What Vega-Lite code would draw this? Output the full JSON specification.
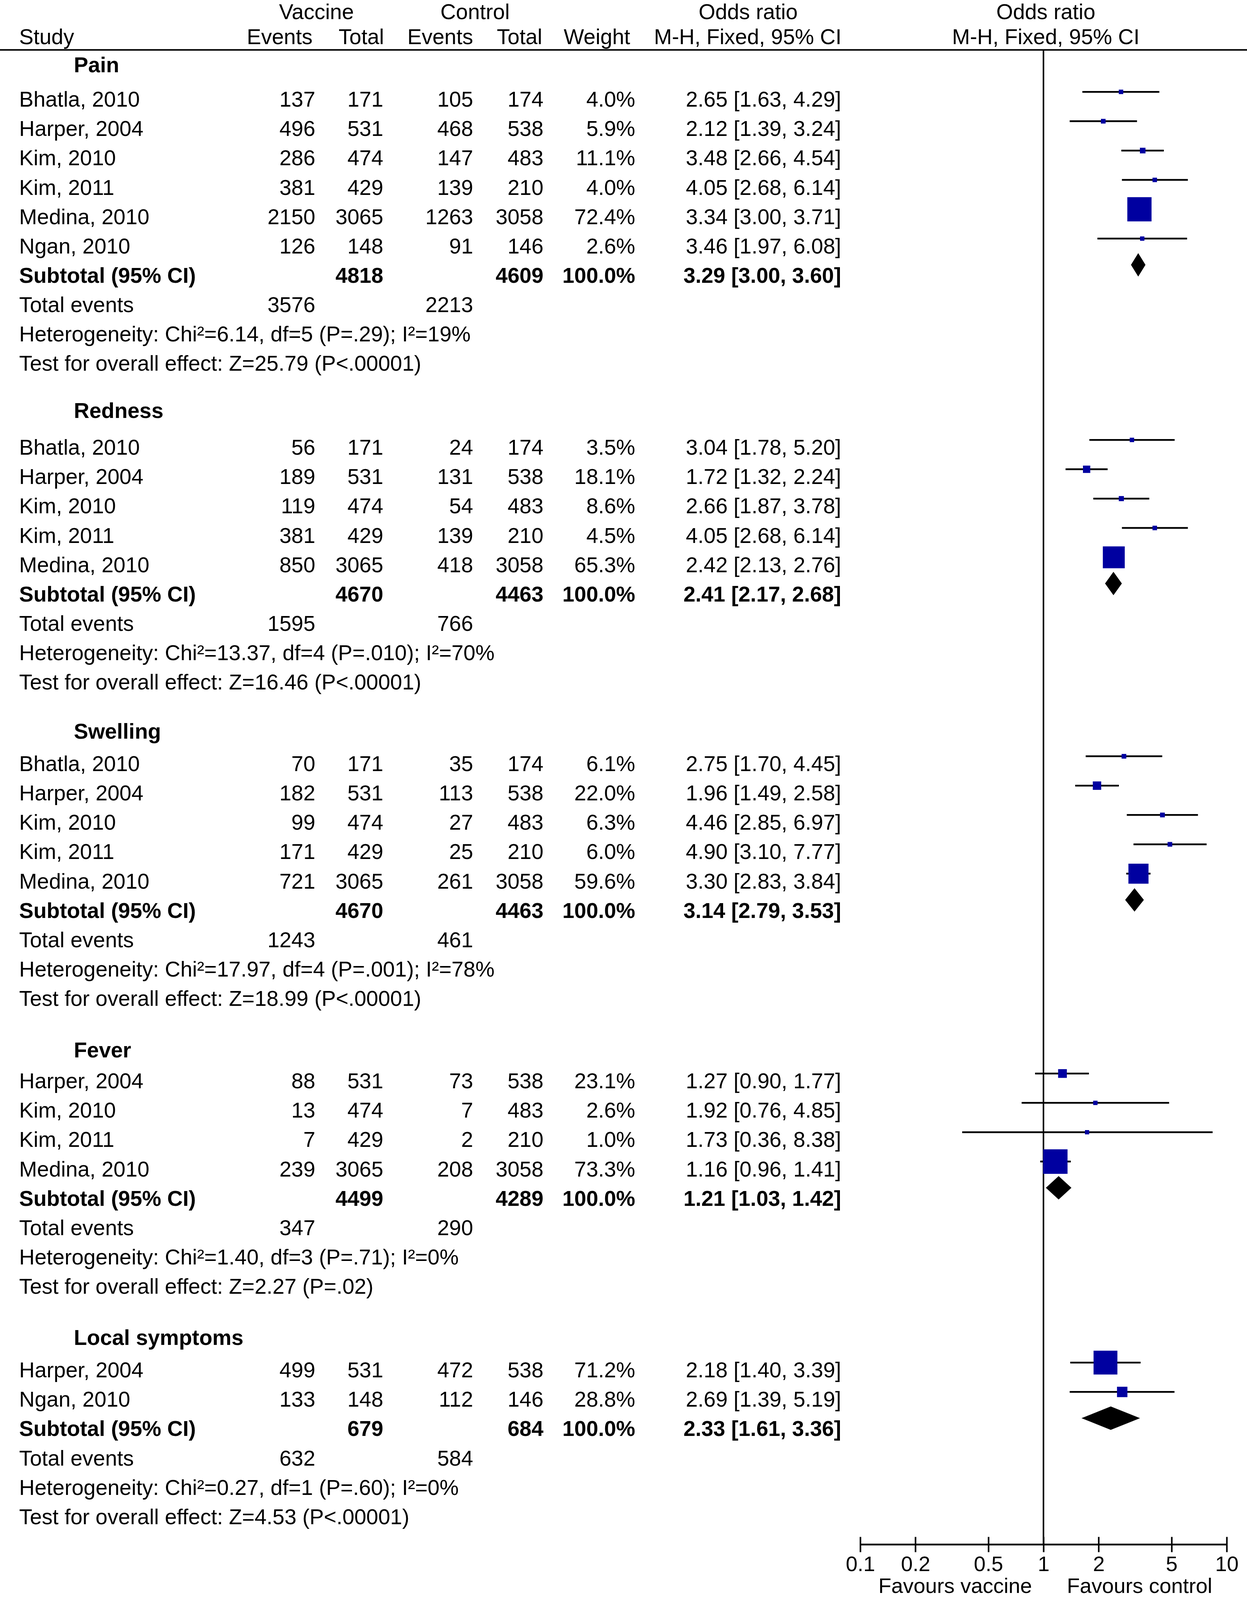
{
  "$schema": "https://vega.github.io/schema/vega-lite/v6.json",
  "width": 3192,
  "height": 3954,
  "autosize": {"type": "none"},
  "padding": {"left": 0, "right": 0, "top": 0, "bottom": 142},
  "background": "white",
  "config": {"view": {"stroke": null}, "font": "Liberation Sans"},
  "datasets": {
    "rows": [
      {"o": "Pain", "r": 0, "k": "section", "label": "Pain"},
      {"o": "Pain", "r": 1.18, "k": "study", "label": "Bhatla, 2010", "ve": 137, "vt": 171, "ce": 105, "ct": 174, "wt": 0.040, "ci": "2.65 [1.63, 4.29]", "est": 2.65, "lo": 1.63, "hi": 4.29},
      {"o": "Pain", "r": 2.18, "k": "study", "label": "Harper, 2004", "ve": 496, "vt": 531, "ce": 468, "ct": 538, "wt": 0.059, "ci": "2.12 [1.39, 3.24]", "est": 2.12, "lo": 1.39, "hi": 3.24},
      {"o": "Pain", "r": 3.18, "k": "study", "label": "Kim, 2010", "ve": 286, "vt": 474, "ce": 147, "ct": 483, "wt": 0.111, "ci": "3.48 [2.66, 4.54]", "est": 3.48, "lo": 2.66, "hi": 4.54},
      {"o": "Pain", "r": 4.18, "k": "study", "label": "Kim, 2011", "ve": 381, "vt": 429, "ce": 139, "ct": 210, "wt": 0.040, "ci": "4.05 [2.68, 6.14]", "est": 4.05, "lo": 2.68, "hi": 6.14},
      {"o": "Pain", "r": 5.18, "k": "study", "label": "Medina, 2010", "ve": 2150, "vt": 3065, "ce": 1263, "ct": 3058, "wt": 0.724, "ci": "3.34 [3.00, 3.71]", "est": 3.34, "lo": 3.00, "hi": 3.71},
      {"o": "Pain", "r": 6.18, "k": "study", "label": "Ngan, 2010", "ve": 126, "vt": 148, "ce": 91, "ct": 146, "wt": 0.026, "ci": "3.46 [1.97, 6.08]", "est": 3.46, "lo": 1.97, "hi": 6.08},
      {"o": "Pain", "r": 7.18, "k": "subtotal", "label": "Subtotal (95% CI)", "vt": 4818, "ct": 4609, "wt": 1.0, "ci": "3.29 [3.00, 3.60]", "est": 3.29, "lo": 3.00, "hi": 3.60},
      {"o": "Pain", "r": 8.18, "k": "total", "label": "Total events", "ve": 3576, "ce": 2213},
      {"o": "Pain", "r": 9.18, "k": "note", "label": "Heterogeneity: Chi²=6.14, df=5 (P=.29); I²=19%"},
      {"o": "Pain", "r": 10.18, "k": "note", "label": "Test for overall effect: Z=25.79 (P<.00001)"},

      {"o": "Redness", "r": 11.79, "k": "section", "label": "Redness"},
      {"o": "Redness", "r": 13.04, "k": "study", "label": "Bhatla, 2010", "ve": 56, "vt": 171, "ce": 24, "ct": 174, "wt": 0.035, "ci": "3.04 [1.78, 5.20]", "est": 3.04, "lo": 1.78, "hi": 5.20},
      {"o": "Redness", "r": 14.04, "k": "study", "label": "Harper, 2004", "ve": 189, "vt": 531, "ce": 131, "ct": 538, "wt": 0.181, "ci": "1.72 [1.32, 2.24]", "est": 1.72, "lo": 1.32, "hi": 2.24},
      {"o": "Redness", "r": 15.04, "k": "study", "label": "Kim, 2010", "ve": 119, "vt": 474, "ce": 54, "ct": 483, "wt": 0.086, "ci": "2.66 [1.87, 3.78]", "est": 2.66, "lo": 1.87, "hi": 3.78},
      {"o": "Redness", "r": 16.04, "k": "study", "label": "Kim, 2011", "ve": 381, "vt": 429, "ce": 139, "ct": 210, "wt": 0.045, "ci": "4.05 [2.68, 6.14]", "est": 4.05, "lo": 2.68, "hi": 6.14},
      {"o": "Redness", "r": 17.04, "k": "study", "label": "Medina, 2010", "ve": 850, "vt": 3065, "ce": 418, "ct": 3058, "wt": 0.653, "ci": "2.42 [2.13, 2.76]", "est": 2.42, "lo": 2.13, "hi": 2.76},
      {"o": "Redness", "r": 18.04, "k": "subtotal", "label": "Subtotal (95% CI)", "vt": 4670, "ct": 4463, "wt": 1.0, "ci": "2.41 [2.17, 2.68]", "est": 2.41, "lo": 2.17, "hi": 2.68},
      {"o": "Redness", "r": 19.04, "k": "total", "label": "Total events", "ve": 1595, "ce": 766},
      {"o": "Redness", "r": 20.04, "k": "note", "label": "Heterogeneity: Chi²=13.37, df=4 (P=.010); I²=70%"},
      {"o": "Redness", "r": 21.04, "k": "note", "label": "Test for overall effect: Z=16.46 (P<.00001)"},

      {"o": "Swelling", "r": 22.71, "k": "section", "label": "Swelling"},
      {"o": "Swelling", "r": 23.82, "k": "study", "label": "Bhatla, 2010", "ve": 70, "vt": 171, "ce": 35, "ct": 174, "wt": 0.061, "ci": "2.75 [1.70, 4.45]", "est": 2.75, "lo": 1.70, "hi": 4.45},
      {"o": "Swelling", "r": 24.82, "k": "study", "label": "Harper, 2004", "ve": 182, "vt": 531, "ce": 113, "ct": 538, "wt": 0.220, "ci": "1.96 [1.49, 2.58]", "est": 1.96, "lo": 1.49, "hi": 2.58},
      {"o": "Swelling", "r": 25.82, "k": "study", "label": "Kim, 2010", "ve": 99, "vt": 474, "ce": 27, "ct": 483, "wt": 0.063, "ci": "4.46 [2.85, 6.97]", "est": 4.46, "lo": 2.85, "hi": 6.97},
      {"o": "Swelling", "r": 26.82, "k": "study", "label": "Kim, 2011", "ve": 171, "vt": 429, "ce": 25, "ct": 210, "wt": 0.060, "ci": "4.90 [3.10, 7.77]", "est": 4.90, "lo": 3.10, "hi": 7.77},
      {"o": "Swelling", "r": 27.82, "k": "study", "label": "Medina, 2010", "ve": 721, "vt": 3065, "ce": 261, "ct": 3058, "wt": 0.596, "ci": "3.30 [2.83, 3.84]", "est": 3.30, "lo": 2.83, "hi": 3.84},
      {"o": "Swelling", "r": 28.82, "k": "subtotal", "label": "Subtotal (95% CI)", "vt": 4670, "ct": 4463, "wt": 1.0, "ci": "3.14 [2.79, 3.53]", "est": 3.14, "lo": 2.79, "hi": 3.53},
      {"o": "Swelling", "r": 29.82, "k": "total", "label": "Total events", "ve": 1243, "ce": 461},
      {"o": "Swelling", "r": 30.82, "k": "note", "label": "Heterogeneity: Chi²=17.97, df=4 (P=.001); I²=78%"},
      {"o": "Swelling", "r": 31.82, "k": "note", "label": "Test for overall effect: Z=18.99 (P<.00001)"},

      {"o": "Fever", "r": 33.57, "k": "section", "label": "Fever"},
      {"o": "Fever", "r": 34.63, "k": "study", "label": "Harper, 2004", "ve": 88, "vt": 531, "ce": 73, "ct": 538, "wt": 0.231, "ci": "1.27 [0.90, 1.77]", "est": 1.27, "lo": 0.90, "hi": 1.77},
      {"o": "Fever", "r": 35.63, "k": "study", "label": "Kim, 2010", "ve": 13, "vt": 474, "ce": 7, "ct": 483, "wt": 0.026, "ci": "1.92 [0.76, 4.85]", "est": 1.92, "lo": 0.76, "hi": 4.85},
      {"o": "Fever", "r": 36.63, "k": "study", "label": "Kim, 2011", "ve": 7, "vt": 429, "ce": 2, "ct": 210, "wt": 0.010, "ci": "1.73 [0.36, 8.38]", "est": 1.73, "lo": 0.36, "hi": 8.38},
      {"o": "Fever", "r": 37.63, "k": "study", "label": "Medina, 2010", "ve": 239, "vt": 3065, "ce": 208, "ct": 3058, "wt": 0.733, "ci": "1.16 [0.96, 1.41]", "est": 1.16, "lo": 0.96, "hi": 1.41},
      {"o": "Fever", "r": 38.63, "k": "subtotal", "label": "Subtotal (95% CI)", "vt": 4499, "ct": 4289, "wt": 1.0, "ci": "1.21 [1.03, 1.42]", "est": 1.21, "lo": 1.03, "hi": 1.42},
      {"o": "Fever", "r": 39.63, "k": "total", "label": "Total events", "ve": 347, "ce": 290},
      {"o": "Fever", "r": 40.63, "k": "note", "label": "Heterogeneity: Chi²=1.40, df=3 (P=.71); I²=0%"},
      {"o": "Fever", "r": 41.63, "k": "note", "label": "Test for overall effect: Z=2.27 (P=.02)"},

      {"o": "Local symptoms", "r": 43.37, "k": "section", "label": "Local symptoms"},
      {"o": "Local symptoms", "r": 44.48, "k": "study", "label": "Harper, 2004", "ve": 499, "vt": 531, "ce": 472, "ct": 538, "wt": 0.712, "ci": "2.18 [1.40, 3.39]", "est": 2.18, "lo": 1.40, "hi": 3.39},
      {"o": "Local symptoms", "r": 45.48, "k": "study", "label": "Ngan, 2010", "ve": 133, "vt": 148, "ce": 112, "ct": 146, "wt": 0.288, "ci": "2.69 [1.39, 5.19]", "est": 2.69, "lo": 1.39, "hi": 5.19},
      {"o": "Local symptoms", "r": 46.48, "k": "subtotal", "label": "Subtotal (95% CI)", "vt": 679, "ct": 684, "wt": 1.0, "ci": "2.33 [1.61, 3.36]", "est": 2.33, "lo": 1.61, "hi": 3.36},
      {"o": "Local symptoms", "r": 47.48, "k": "total", "label": "Total events", "ve": 632, "ce": 584},
      {"o": "Local symptoms", "r": 48.48, "k": "note", "label": "Heterogeneity: Chi²=0.27, df=1 (P=.60); I²=0%"},
      {"o": "Local symptoms", "r": 49.48, "k": "note", "label": "Test for overall effect: Z=4.53 (P<.00001)"}
    ]
  },
  "data": {"name": "rows"},
  "encoding": {
    "y": {"field": "r", "type": "quantitative", "scale": {"domain": [-2.19, 50.44], "reverse": true, "nice": false, "zero": false}, "axis": null}
  },
  "layer": [
    {
      "layer": [
        {"data": {"values": [{"r": -0.49}]}, "mark": {"type": "rule", "color": "black", "strokeWidth": 4}, "encoding": {}},
        {"transform": [{"filter": "datum.k === 'study' || datum.k === 'total' || datum.k === 'note'"}],
         "mark": {"type": "text", "align": "left", "baseline": "middle", "dy": 3, "fontSize": 55, "font": "Liberation Sans", "color": "black"},
         "encoding": {"x": {"datum": 49, "type": "quantitative", "scale": {"domain": [0, 3192], "range": [0, 3192]}, "axis": null}, "text": {"field": "label"}}},
        {"transform": [{"filter": "datum.k === 'section'"}],
         "mark": {"type": "text", "align": "left", "baseline": "middle", "dy": 3, "fontSize": 55, "fontWeight": "bold", "font": "Liberation Sans", "color": "black"},
         "encoding": {"x": {"datum": 189, "type": "quantitative", "scale": {"domain": [0, 3192], "range": [0, 3192]}, "axis": null}, "text": {"field": "label"}}},
        {"transform": [{"filter": "datum.k === 'subtotal'"}],
         "mark": {"type": "text", "align": "left", "baseline": "middle", "dy": 3, "fontSize": 55, "fontWeight": "bold", "font": "Liberation Sans", "color": "black"},
         "encoding": {"x": {"datum": 49, "type": "quantitative", "scale": {"domain": [0, 3192], "range": [0, 3192]}, "axis": null}, "text": {"field": "label"}}},
        {"transform": [{"filter": "datum.k === 'study' || datum.k === 'total'"}],
         "mark": {"type": "text", "align": "right", "baseline": "middle", "dy": 3, "fontSize": 55, "font": "Liberation Sans", "color": "black"},
         "encoding": {"x": {"datum": 807, "type": "quantitative", "scale": {"domain": [0, 3192], "range": [0, 3192]}, "axis": null}, "text": {"field": "ve", "type": "quantitative", "format": "d"}}},
        {"transform": [{"filter": "datum.k === 'study' || datum.k === 'total'"}],
         "mark": {"type": "text", "align": "right", "baseline": "middle", "dy": 3, "fontSize": 55, "font": "Liberation Sans", "color": "black"},
         "encoding": {"x": {"datum": 1211, "type": "quantitative", "scale": {"domain": [0, 3192], "range": [0, 3192]}, "axis": null}, "text": {"field": "ce", "type": "quantitative", "format": "d"}}},
        {"transform": [{"filter": "datum.k === 'study'"}],
         "mark": {"type": "text", "align": "right", "baseline": "middle", "dy": 3, "fontSize": 55, "font": "Liberation Sans", "color": "black"},
         "encoding": {"x": {"datum": 981, "type": "quantitative", "scale": {"domain": [0, 3192], "range": [0, 3192]}, "axis": null}, "text": {"field": "vt", "type": "quantitative", "format": "d"}}},
        {"transform": [{"filter": "datum.k === 'study'"}],
         "mark": {"type": "text", "align": "right", "baseline": "middle", "dy": 3, "fontSize": 55, "font": "Liberation Sans", "color": "black"},
         "encoding": {"x": {"datum": 1391, "type": "quantitative", "scale": {"domain": [0, 3192], "range": [0, 3192]}, "axis": null}, "text": {"field": "ct", "type": "quantitative", "format": "d"}}},
        {"transform": [{"filter": "datum.k === 'study'"}],
         "mark": {"type": "text", "align": "right", "baseline": "middle", "dy": 3, "fontSize": 55, "font": "Liberation Sans", "color": "black"},
         "encoding": {"x": {"datum": 1626, "type": "quantitative", "scale": {"domain": [0, 3192], "range": [0, 3192]}, "axis": null}, "text": {"field": "wt", "type": "quantitative", "format": ".1%"}}},
        {"transform": [{"filter": "datum.k === 'study'"}],
         "mark": {"type": "text", "align": "right", "baseline": "middle", "dy": 3, "fontSize": 55, "font": "Liberation Sans", "color": "black"},
         "encoding": {"x": {"datum": 2153, "type": "quantitative", "scale": {"domain": [0, 3192], "range": [0, 3192]}, "axis": null}, "text": {"field": "ci"}}},
        {"transform": [{"filter": "datum.k === 'subtotal'"}],
         "mark": {"type": "text", "align": "right", "baseline": "middle", "dy": 3, "fontSize": 55, "fontWeight": "bold", "font": "Liberation Sans", "color": "black"},
         "encoding": {"x": {"datum": 981, "type": "quantitative", "scale": {"domain": [0, 3192], "range": [0, 3192]}, "axis": null}, "text": {"field": "vt", "type": "quantitative", "format": "d"}}},
        {"transform": [{"filter": "datum.k === 'subtotal'"}],
         "mark": {"type": "text", "align": "right", "baseline": "middle", "dy": 3, "fontSize": 55, "fontWeight": "bold", "font": "Liberation Sans", "color": "black"},
         "encoding": {"x": {"datum": 1391, "type": "quantitative", "scale": {"domain": [0, 3192], "range": [0, 3192]}, "axis": null}, "text": {"field": "ct", "type": "quantitative", "format": "d"}}},
        {"transform": [{"filter": "datum.k === 'subtotal'"}],
         "mark": {"type": "text", "align": "right", "baseline": "middle", "dy": 3, "fontSize": 55, "fontWeight": "bold", "font": "Liberation Sans", "color": "black"},
         "encoding": {"x": {"datum": 1626, "type": "quantitative", "scale": {"domain": [0, 3192], "range": [0, 3192]}, "axis": null}, "text": {"field": "wt", "type": "quantitative", "format": ".1%"}}},
        {"transform": [{"filter": "datum.k === 'subtotal'"}],
         "mark": {"type": "text", "align": "right", "baseline": "middle", "dy": 3, "fontSize": 55, "fontWeight": "bold", "font": "Liberation Sans", "color": "black"},
         "encoding": {"x": {"datum": 2153, "type": "quantitative", "scale": {"domain": [0, 3192], "range": [0, 3192]}, "axis": null}, "text": {"field": "ci"}}},
        {"data": {"values": [{"r": -1.81, "t": "Vaccine"}]},
         "mark": {"type": "text", "align": "center", "baseline": "middle", "dy": 3, "fontSize": 55, "font": "Liberation Sans", "color": "black"},
         "encoding": {"x": {"datum": 810, "type": "quantitative", "scale": {"domain": [0, 3192], "range": [0, 3192]}, "axis": null}, "text": {"field": "t"}}},
        {"data": {"values": [{"r": -1.81, "t": "Control"}]},
         "mark": {"type": "text", "align": "center", "baseline": "middle", "dy": 3, "fontSize": 55, "font": "Liberation Sans", "color": "black"},
         "encoding": {"x": {"datum": 1216, "type": "quantitative", "scale": {"domain": [0, 3192], "range": [0, 3192]}, "axis": null}, "text": {"field": "t"}}},
        {"data": {"values": [{"r": -1.81, "t": "Odds ratio"}]},
         "mark": {"type": "text", "align": "center", "baseline": "middle", "dy": 3, "fontSize": 55, "font": "Liberation Sans", "color": "black"},
         "encoding": {"x": {"datum": 1915, "type": "quantitative", "scale": {"domain": [0, 3192], "range": [0, 3192]}, "axis": null}, "text": {"field": "t"}}},
        {"data": {"values": [{"r": -1.81, "t": "Odds ratio"}]},
         "mark": {"type": "text", "align": "center", "baseline": "middle", "dy": 3, "fontSize": 55, "font": "Liberation Sans", "color": "black"},
         "encoding": {"x": {"datum": 2677, "type": "quantitative", "scale": {"domain": [0, 3192], "range": [0, 3192]}, "axis": null}, "text": {"field": "t"}}},
        {"data": {"values": [{"r": -0.95, "t": "Study"}]},
         "mark": {"type": "text", "align": "left", "baseline": "middle", "dy": 3, "fontSize": 55, "font": "Liberation Sans", "color": "black"},
         "encoding": {"x": {"datum": 49, "type": "quantitative", "scale": {"domain": [0, 3192], "range": [0, 3192]}, "axis": null}, "text": {"field": "t"}}},
        {"data": {"values": [{"r": -0.95, "t": "Events"}]},
         "mark": {"type": "text", "align": "right", "baseline": "middle", "dy": 3, "fontSize": 55, "font": "Liberation Sans", "color": "black"},
         "encoding": {"x": {"datum": 800, "type": "quantitative", "scale": {"domain": [0, 3192], "range": [0, 3192]}, "axis": null}, "text": {"field": "t"}}},
        {"data": {"values": [{"r": -0.95, "t": "Total"}]},
         "mark": {"type": "text", "align": "right", "baseline": "middle", "dy": 3, "fontSize": 55, "font": "Liberation Sans", "color": "black"},
         "encoding": {"x": {"datum": 983, "type": "quantitative", "scale": {"domain": [0, 3192], "range": [0, 3192]}, "axis": null}, "text": {"field": "t"}}},
        {"data": {"values": [{"r": -0.95, "t": "Events"}]},
         "mark": {"type": "text", "align": "right", "baseline": "middle", "dy": 3, "fontSize": 55, "font": "Liberation Sans", "color": "black"},
         "encoding": {"x": {"datum": 1211, "type": "quantitative", "scale": {"domain": [0, 3192], "range": [0, 3192]}, "axis": null}, "text": {"field": "t"}}},
        {"data": {"values": [{"r": -0.95, "t": "Total"}]},
         "mark": {"type": "text", "align": "right", "baseline": "middle", "dy": 3, "fontSize": 55, "font": "Liberation Sans", "color": "black"},
         "encoding": {"x": {"datum": 1388, "type": "quantitative", "scale": {"domain": [0, 3192], "range": [0, 3192]}, "axis": null}, "text": {"field": "t"}}},
        {"data": {"values": [{"r": -0.95, "t": "Weight"}]},
         "mark": {"type": "text", "align": "center", "baseline": "middle", "dy": 3, "fontSize": 55, "font": "Liberation Sans", "color": "black"},
         "encoding": {"x": {"datum": 1528, "type": "quantitative", "scale": {"domain": [0, 3192], "range": [0, 3192]}, "axis": null}, "text": {"field": "t"}}},
        {"data": {"values": [{"r": -0.95, "t": "M-H, Fixed, 95% CI"}]},
         "mark": {"type": "text", "align": "center", "baseline": "middle", "dy": 3, "fontSize": 55, "font": "Liberation Sans", "color": "black"},
         "encoding": {"x": {"datum": 1914, "type": "quantitative", "scale": {"domain": [0, 3192], "range": [0, 3192]}, "axis": null}, "text": {"field": "t"}}},
        {"data": {"values": [{"r": -0.95, "t": "M-H, Fixed, 95% CI"}]},
         "mark": {"type": "text", "align": "center", "baseline": "middle", "dy": 3, "fontSize": 55, "font": "Liberation Sans", "color": "black"},
         "encoding": {"x": {"datum": 2677, "type": "quantitative", "scale": {"domain": [0, 3192], "range": [0, 3192]}, "axis": null}, "text": {"field": "t"}}},
        {"data": {"values": [{"r": 52.09, "t": "Favours vaccine"}]},
         "mark": {"type": "text", "align": "center", "baseline": "alphabetic", "fontSize": 54, "font": "Liberation Sans", "color": "black"},
         "encoding": {"x": {"datum": 2445, "type": "quantitative", "scale": {"domain": [0, 3192], "range": [0, 3192]}, "axis": null}, "text": {"field": "t"}}},
        {"data": {"values": [{"r": 52.09, "t": "Favours control"}]},
         "mark": {"type": "text", "align": "center", "baseline": "alphabetic", "fontSize": 54, "font": "Liberation Sans", "color": "black"},
         "encoding": {"x": {"datum": 2917, "type": "quantitative", "scale": {"domain": [0, 3192], "range": [0, 3192]}, "axis": null}, "text": {"field": "t"}}}
      ]
    },
    {
      "layer": [
        {"data": {"values": [{"r": -0.49, "r2": 50.44}]},
         "mark": {"type": "rule", "color": "black", "strokeWidth": 4},
         "encoding": {
           "x": {"datum": 1, "type": "quantitative", "scale": {"type": "log", "domain": [0.1, 10], "range": [2202, 3140], "nice": false},
                 "axis": {"values": [0.1, 0.2, 0.5, 1, 2, 5, 10], "labelExpr": "datum.value + ''", "offset": -20, "tickSize": 39, "tickWidth": 4, "tickColor": "black", "domain": false, "grid": false, "title": null, "labelFont": "Liberation Sans", "labelFontSize": 54, "labelColor": "black", "labelPadding": 5, "labelFlush": false, "labelOverlap": false, "labelBound": false}},
           "y2": {"field": "r2"}}},
        {"data": {"values": [{"r": 50.44, "lo": 0.1, "hi": 10}]},
         "mark": {"type": "rule", "color": "black", "strokeWidth": 4.5},
         "encoding": {
           "x": {"field": "lo", "type": "quantitative", "scale": {"type": "log", "domain": [0.1, 10], "range": [2202, 3140], "nice": false},
                 "axis": {"values": [0.1, 0.2, 0.5, 1, 2, 5, 10], "labelExpr": "datum.value + ''", "offset": -20, "tickSize": 39, "tickWidth": 4, "tickColor": "black", "domain": false, "grid": false, "title": null, "labelFont": "Liberation Sans", "labelFontSize": 54, "labelColor": "black", "labelPadding": 5, "labelFlush": false, "labelOverlap": false, "labelBound": false}},
           "x2": {"field": "hi"}}},
        {"transform": [{"filter": "datum.k === 'study'"}],
         "mark": {"type": "rule", "color": "black", "strokeWidth": 4.5, "yOffset": -18},
         "encoding": {
           "x": {"field": "lo", "type": "quantitative", "scale": {"type": "log", "domain": [0.1, 10], "range": [2202, 3140], "nice": false},
                 "axis": {"values": [0.1, 0.2, 0.5, 1, 2, 5, 10], "labelExpr": "datum.value + ''", "offset": -20, "tickSize": 39, "tickWidth": 4, "tickColor": "black", "domain": false, "grid": false, "title": null, "labelFont": "Liberation Sans", "labelFontSize": 54, "labelColor": "black", "labelPadding": 5, "labelFlush": false, "labelOverlap": false, "labelBound": false}},
           "x2": {"field": "hi"}}},
        {"transform": [{"filter": "datum.k === 'study'"}],
         "mark": {"type": "point", "shape": "square", "filled": true, "color": "#0000a0", "opacity": 1, "yOffset": -18},
         "encoding": {
           "x": {"field": "est", "type": "quantitative", "scale": {"type": "log", "domain": [0.1, 10], "range": [2202, 3140], "nice": false},
                 "axis": {"values": [0.1, 0.2, 0.5, 1, 2, 5, 10], "labelExpr": "datum.value + ''", "offset": -20, "tickSize": 39, "tickWidth": 4, "tickColor": "black", "domain": false, "grid": false, "title": null, "labelFont": "Liberation Sans", "labelFontSize": 54, "labelColor": "black", "labelPadding": 5, "labelFlush": false, "labelOverlap": false, "labelBound": false}},
           "size": {"field": "wt", "type": "quantitative", "scale": {"type": "pow", "exponent": 2, "domain": [0, 1], "range": [120, 7227]}, "legend": null}}},
        {"transform": [{"filter": "datum.k === 'subtotal'"}],
         "mark": {"type": "point", "filled": true, "color": "black", "opacity": 1, "size": 3600, "yOffset": -26},
         "encoding": {
           "x": {"field": "est", "type": "quantitative", "scale": {"type": "log", "domain": [0.1, 10], "range": [2202, 3140], "nice": false},
                 "axis": {"values": [0.1, 0.2, 0.5, 1, 2, 5, 10], "labelExpr": "datum.value + ''", "offset": -20, "tickSize": 39, "tickWidth": 4, "tickColor": "black", "domain": false, "grid": false, "title": null, "labelFont": "Liberation Sans", "labelFontSize": 54, "labelColor": "black", "labelPadding": 5, "labelFlush": false, "labelOverlap": false, "labelBound": false}},
           "shape": {"field": "o", "type": "nominal", "legend": null,
                     "scale": {"domain": ["Pain", "Redness", "Swelling", "Fever", "Local symptoms"],
                               "range": ["M-0.619,0L0,-1L0.619,0L0,1Z", "M-0.717,0L0,-1L0.717,0L0,1Z", "M-0.799,0L0,-1L0.799,0L0,1Z", "M-1.090,0L0,-1L1.090,0L0,1Z", "M-2.497,0L0,-1L2.497,0L0,1Z"]}}}}
      ]
    }
  ],
  "resolve": {"scale": {"x": "independent"}, "axis": {"x": "independent"}}
}
